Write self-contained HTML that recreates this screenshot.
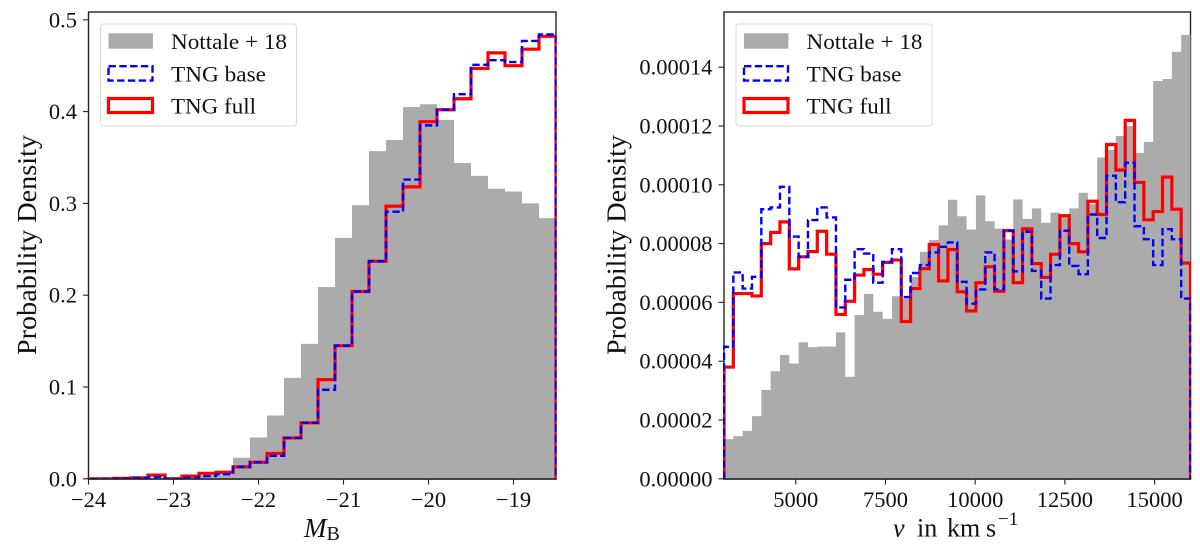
<!DOCTYPE html>
<html>
<head>
<meta charset="utf-8">
<style>
html,body{margin:0;padding:0;background:#fff;width:1200px;height:544px;overflow:hidden}
svg{display:block}
text{font-family:"Liberation Serif",serif;fill:#111}
</style>
</head>
<body>
<svg id="chart" width="1200" height="544" viewBox="0 0 1200 544" xmlns="http://www.w3.org/2000/svg"></svg>
<script>
const magBinStart = -24.1;
const magBinWidth = 0.2;
const magObserved = [0,0,0.0005,0.001,0.001,0.002,0.002,0.004,0.009,0.023,0.045,0.069,0.11,0.147,0.209,0.2625,0.298,0.357,0.369,0.405,0.408,0.391,0.344,0.33,0.316,0.313,0.30,0.284];
const magBase = [0,0,0.0003,0.001,0.002,0,0.001,0.003,0.005,0.013,0.018,0.025,0.0445,0.061,0.097,0.145,0.204,0.237,0.291,0.326,0.385,0.402,0.419,0.451,0.456,0.454,0.477,0.484];
const magFull = [0,0,0.0005,0.001,0.004,0,0.003,0.006,0.007,0.013,0.018,0.0276,0.0445,0.061,0.108,0.145,0.204,0.237,0.297,0.318,0.389,0.402,0.414,0.447,0.464,0.45,0.468,0.482];
const magXTicks = [-24,-23,-22,-21,-20,-19];
const magYTicks = [0,0.1,0.2,0.3,0.4,0.5];
const magYLabels = ["0.0","0.1","0.2","0.3","0.4","0.5"];

const velBinStart = 3000;
const velBinWidth = 260;
const velObserved = [1.35,1.45,1.63,2.13,3.02,3.66,4.21,3.92,4.64,4.48,4.5,4.5,4.98,3.47,5.57,6.29,5.68,5.44,6.21,6.13,6.86,7.72,8.12,8.62,9.49,8.93,8.48,9.64,8.76,8.51,8.14,9.5,8.84,9.2,8.71,9.06,8.95,9.2,9.73,9.34,10.93,11.19,11.66,12.0,11.08,11.46,13.53,13.6,14.52,15.1];
const velBase = [4.49,7.02,6.47,6.87,9.17,9.23,9.93,8.24,7.55,8.8,9.23,8.89,5.83,6.77,7.81,7.66,6.67,7.38,7.81,6.18,7.0,7.27,7.7,7.89,8.04,6.7,5.96,6.44,7.7,6.44,8.44,7.06,8.4,7.07,6.13,7.27,8.44,7.24,6.96,8.99,8.19,10.31,9.41,10.75,8.59,8.15,7.27,8.49,8.15,6.13];
const velFull = [3.8,6.3,6.3,6.22,8.0,8.38,8.74,7.14,7.55,7.73,8.42,7.64,5.59,6.04,6.93,7.12,6.96,7.36,7.44,5.35,6.47,7.15,7.97,6.73,7.8,6.36,5.71,6.67,7.21,6.38,8.44,6.67,8.5,7.32,6.85,7.64,8.95,8.0,7.72,9.44,8.99,11.37,10.5,12.19,10.08,8.81,9.09,10.26,9.17,7.34];
const velValueScale = 1e-5;
const velXTicks = [5000,7500,10000,12500,15000];
const velXLabels = ["5000","7500","10000","12500","15000"];
const velYTicks = [0,0.00002,0.00004,0.00006,0.00008,0.0001,0.00012,0.00014];
const velYLabels = ["0.00000","0.00002","0.00004","0.00006","0.00008","0.00010","0.00012","0.00014"];

const legendLabels = ["Nottale + 18","TNG base","TNG full"];

const NS = "http://www.w3.org/2000/svg";
const svg = document.getElementById("chart");

function make(tag, attrs, parent, content) {
  const el = document.createElementNS(NS, tag);
  for (const k in attrs) el.setAttribute(k, attrs[k]);
  if (content !== undefined) el.textContent = content;
  (parent || svg).appendChild(el);
  return el;
}

function linear(d0, d1, r0, r1) {
  return v => r0 + (v - d0) * (r1 - r0) / (d1 - d0);
}

function stepPath(values, binStart, binWidth, sx, sy) {
  let d = "M" + sx(binStart).toFixed(2) + " " + sy(0).toFixed(2);
  values.forEach((v, i) => {
    const y = sy(v).toFixed(2);
    d += "L" + sx(binStart + i * binWidth).toFixed(2) + " " + y;
    d += "L" + sx(binStart + (i + 1) * binWidth).toFixed(2) + " " + y;
  });
  d += "L" + sx(binStart + values.length * binWidth).toFixed(2) + " " + sy(0).toFixed(2);
  return d;
}

function drawPanel(cfg) {
  const g = make("g", {});
  
  

  const L = cfg.left, R = cfg.right, T = 12, B = 479;
  const spine = "#222";
  const clipId = cfg.name + "-clip";
  const defs = make("defs", {}, g);
  const cp = make("clipPath", { id: clipId }, defs);
  make("rect", { x: L - 1, y: T, width: R - L + 1.6, height: B - T }, cp);

  const frame = make("rect", { x: L, y: T, width: R - L, height: B - T, fill: "none", stroke: spine, "stroke-width": 1.4 }, g);
  
  

  const plot = make("g", { "clip-path": "url(#" + clipId + ")" }, g);
  
  

  const gray = make("path", { d: stepPath(cfg.observed, cfg.binStart, cfg.binWidth, cfg.sx, cfg.sy) + "Z", fill: "#ababab", stroke: "none" }, plot);
  
  

  const red = make("path", { d: stepPath(cfg.full, cfg.binStart, cfg.binWidth, cfg.sx, cfg.sy), fill: "none", stroke: "#ff0000", "stroke-width": 3.2, "stroke-linejoin": "miter" }, plot);
  
  

  const blue = make("path", { d: stepPath(cfg.base, cfg.binStart, cfg.binWidth, cfg.sx, cfg.sy), fill: "none", stroke: "#0000ff", "stroke-width": 2.4, "stroke-dasharray": "7.4 3.4" }, plot);
  
  

  const bottomSpine = make("line", { x1: L - 0.7, x2: R + 0.7, y1: B, y2: B, stroke: spine, "stroke-width": 1.4 }, g);
  
  

  cfg.xTicks.forEach((t, i) => {
    const x = cfg.sx(t);
    const tick = make("line", { x1: x, x2: x, y1: B, y2: B + 5.5, stroke: spine, "stroke-width": 1.1 }, g);
    
    
    const lab = make("text", { x: x, y: 507, "text-anchor": "middle", "font-size": 22.5 }, g, cfg.xLabels[i]);
    
    
  });

  cfg.yTicks.forEach((t, i) => {
    const y = cfg.sy(t);
    const tick = make("line", { x1: L - 5.5, x2: L, y1: y, y2: y, stroke: spine, "stroke-width": 1.1 }, g);
    
    
    const lab = make("text", { x: L - 11.5, y: y + 7.5, "text-anchor": "end", "font-size": 22.5 }, g, cfg.yLabels[i]);
    
    
  });

  const yTitle = make("text", { transform: "translate(" + cfg.yTitleX + ",245) rotate(-90)", "text-anchor": "middle", "font-size": 27, textLength: 220, lengthAdjust: "spacingAndGlyphs" }, g, "Probability Density");
  
  

  const lx = L + 12;
  const legend = make("g", {}, g);
  
  
  const lbox = make("rect", { x: lx, y: 24, width: 196, height: 102, rx: 3, fill: "#fff", "fill-opacity": 0.8, stroke: "#d9d9d9", "stroke-width": 1 }, legend);
  
  

  const h1 = make("rect", { x: lx + 8, y: 33.3, width: 44.4, height: 15.4, fill: "#ababab" }, legend);
  
  
  const h2 = make("rect", { x: lx + 8, y: 66.2, width: 44, height: 14.4, fill: "none", stroke: "#0000ff", "stroke-width": 2.4, "stroke-dasharray": "7.4 3.4" }, legend);
  
  
  const h3 = make("rect", { x: lx + 8, y: 98.5, width: 44, height: 14, fill: "none", stroke: "#ff0000", "stroke-width": 3.2 }, legend);
  
  

  const widths = [116, 95, 85];
  const bases = [49, 81.4, 113.6];
  legendLabels.forEach((s, i) => {
    const t = make("text", { x: lx + 70.5, y: bases[i], "font-size": 22, textLength: widths[i], lengthAdjust: "spacingAndGlyphs" }, legend, s);
    
    
  });
}

drawPanel({
  name: "magnitude-panel",
  left: 88.5, right: 556, yTitleX: 36,
  sx: linear(-24, -18.5, 88.5, 556),
  sy: linear(0, 0.5, 478.8, 19.8),
  observed: magObserved, base: magBase, full: magFull,
  binStart: magBinStart, binWidth: magBinWidth,
  xTicks: magXTicks,
  xLabels: magXTicks.map(v => "\u2212" + Math.abs(v)),
  yTicks: magYTicks, yLabels: magYLabels
});

drawPanel({
  name: "velocity-panel",
  left: 724, right: 1190.5, yTitleX: 625.5,
  sx: linear(3000, 16000, 724, 1190.5),
  sy: linear(0, 0.00014, 478.8, 67.2),
  observed: velObserved.map(v => v * velValueScale),
  base: velBase.map(v => v * velValueScale),
  full: velFull.map(v => v * velValueScale),
  binStart: velBinStart, binWidth: velBinWidth,
  xTicks: velXTicks, xLabels: velXLabels,
  yTicks: velYTicks, yLabels: velYLabels
});

const xt1 = make("text", { x: 304, y: 537, "font-size": 27 });


make("tspan", { "font-style": "italic" }, xt1, "M");
make("tspan", { "font-size": 20, dy: 3 }, xt1, "B");

const xt2 = make("text", { x: 893, y: 536.7, "font-size": 26 });


make("tspan", { "font-style": "italic", x: 893 }, xt2, "v");
make("tspan", { x: 917 }, xt2, "in");
make("tspan", { x: 947 }, xt2, "km");
make("tspan", { x: 986 }, xt2, "s");
make("tspan", { x: 998, "font-size": 19, dy: -11.5 }, xt2, "\u22121");
</script>
</body>
</html>
